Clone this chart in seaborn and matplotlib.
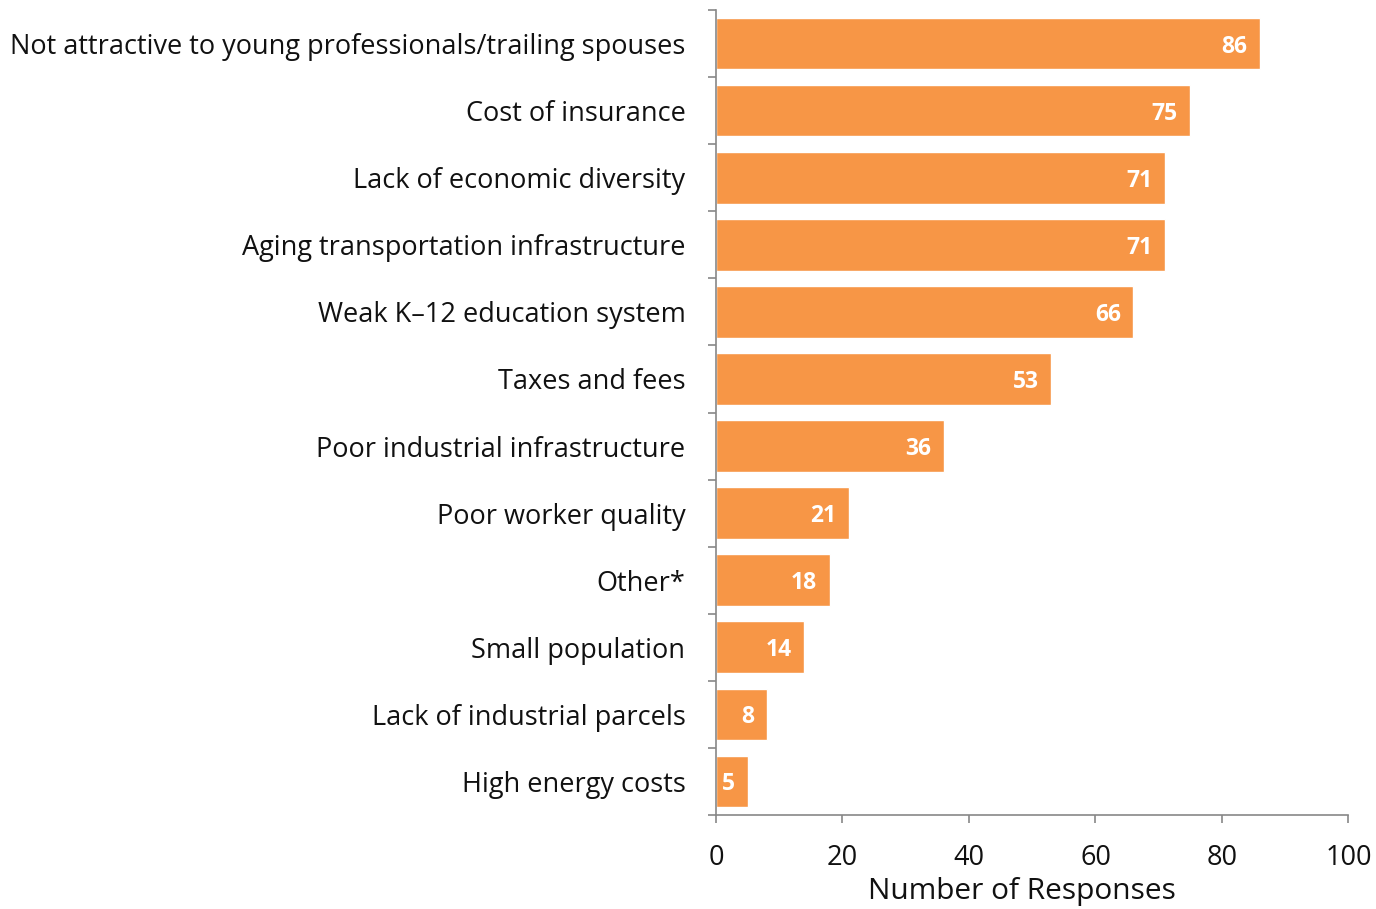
import matplotlib
matplotlib.use("Agg")
import matplotlib.pyplot as plt
import seaborn as sns
import pandas as pd
import numpy as np

categories = [
    "Not attractive to young professionals/trailing spouses",
    "Cost of insurance",
    "Lack of economic diversity",
    "Aging transportation infrastructure",
    "Weak K\u201312 education system",
    "Taxes and fees",
    "Poor industrial infrastructure",
    "Poor worker quality",
    "Other*",
    "Small population",
    "Lack of industrial parcels",
    "High energy costs",
]
responses = [86, 75, 71, 71, 66, 53, 36, 21, 18, 14, 8, 5]
x_ticks = [0, 20, 40, 60, 80, 100]

BAR_COLOR = "#F79646"
AXIS_COLOR = "#878787"

sns.set_theme(style="white")
plt.rcParams["font.family"] = ["Open Sans", "DejaVu Sans"]

df = pd.DataFrame({"category": categories, "responses": responses})

fig = plt.figure(figsize=(13.76, 9.09), dpi=100)
ax = fig.add_axes([0.5203, 0.1034, 0.4597, 0.8856])

sns.barplot(data=df, x="responses", y="category", orient="h",
            color=BAR_COLOR, saturation=1, width=0.77, ax=ax)

ax.set_xlim(0, 100)
ax.set_ylim(len(categories) - 0.5, -0.5)
ax.set_xticks(x_ticks)
ax.set_xticklabels([str(t) for t in x_ticks], fontsize=19.5, color="#111111")
ax.set_xlabel("Number of Responses", fontsize=21.5, color="#111111", va="center")
ax.xaxis.set_label_coords(0.483, -0.095)
ax.set_ylabel("")

# category labels at bar centres, tick marks at category boundaries
ax.set_yticks(range(len(categories)))
ax.set_yticklabels(categories, fontsize=19.5, color="#111111")
ax.tick_params(axis="y", which="major", left=True, length=0, pad=22)
ax.set_yticks(np.arange(-0.5, len(categories) + 0.5, 1), minor=True)
ax.tick_params(axis="y", which="minor", left=True, length=6, width=1.2,
               color=AXIS_COLOR, direction="out")
ax.tick_params(axis="x", which="major", bottom=True, length=6, width=1.2,
               color=AXIS_COLOR, direction="out", pad=15)

for side in ["top", "right"]:
    ax.spines[side].set_visible(False)
for side in ["left", "bottom"]:
    ax.spines[side].set_color(AXIS_COLOR)
    ax.spines[side].set_linewidth(1.2)

for i, v in enumerate(responses):
    ax.text(v - 2.0, i, str(v), ha="right", va="center_baseline", color="white",
            fontsize=16.5, fontweight="bold")

fig.savefig("out.png", dpi=100, facecolor="white")
